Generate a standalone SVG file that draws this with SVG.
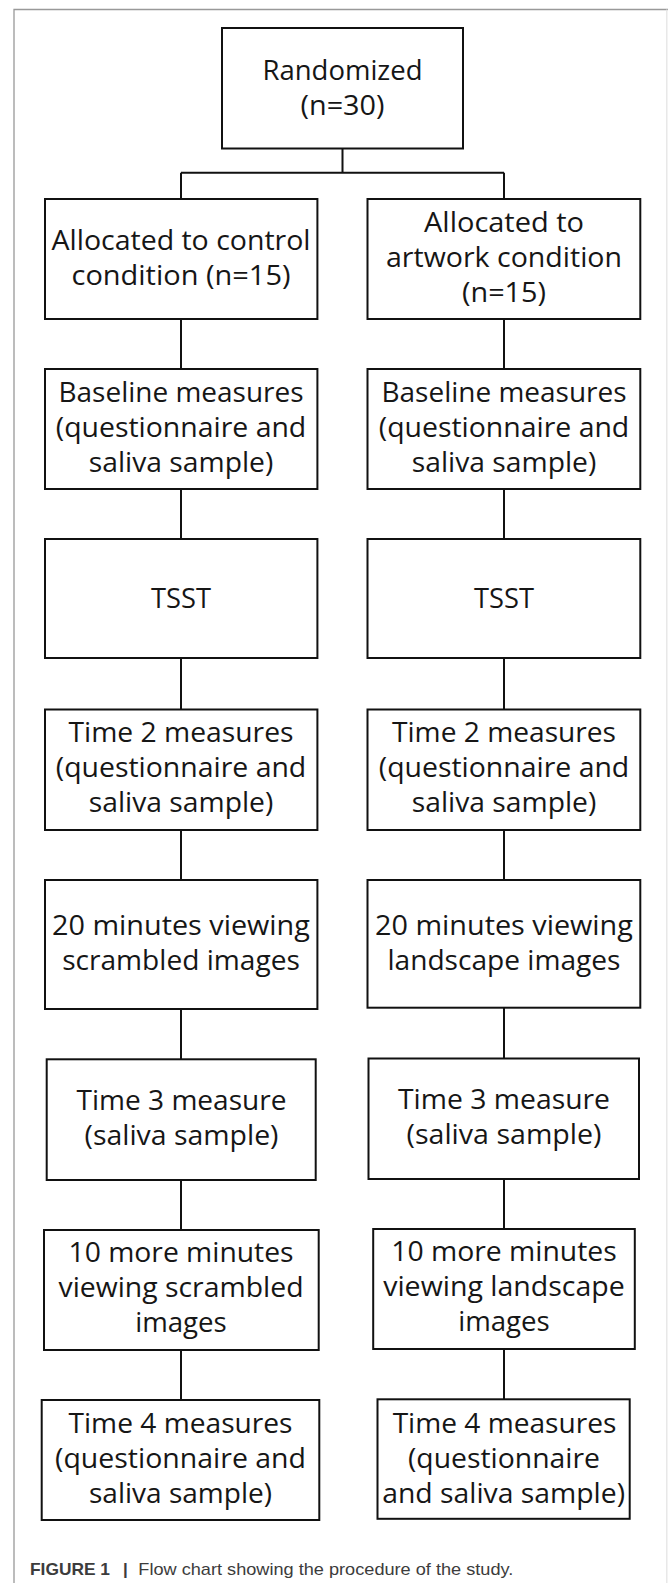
<svg xmlns="http://www.w3.org/2000/svg" width="668" height="1583" viewBox="0 0 668 1583">
<style>
.box{fill:#fff;stroke:#111;stroke-width:2}
.t{font-family:"Open Sans","Noto Sans",sans-serif;font-size:26.5px;fill:#161616;text-anchor:middle}
.c{fill:none;stroke:#111;stroke-width:2}
.cap{font-family:"Liberation Sans",Arial,sans-serif;font-size:17px;fill:#3c3c3c}
</style>
<rect width="668" height="1583" fill="#fff"/>
<g id="frame" fill="none" stroke="#999" stroke-width="1.3">
<path d="M14,1583 V9.5 H668"/>
<path d="M666.8,9.5 V1583" stroke="#e4e4e4"/>
</g>
<g id="connectors" class="c">
<path d="M342.5,148.5 V172.7 M181,172.7 H504 M181,172.7 V199 M504,172.7 V199"/>
<path d="M181,319 V369 M181,489 V539 M181,658 V709.5 M181,830 V880 M181,1009 V1059.3 M181,1180 V1230 M181,1350 V1400"/>
<path d="M504,319 V369 M504,489 V539 M504,658 V709.5 M504,830 V880 M504,1007.7 V1058.5 M504,1179 V1229 M504,1349 V1399.3"/>
</g>
<g id="randomized">
<rect class="box" x="222" y="28" width="241" height="120.5"/>
<text class="t" x="342.5" y="80" textLength="160" lengthAdjust="spacingAndGlyphs">Randomized</text>
<text class="t" x="342.5" y="115" textLength="84" lengthAdjust="spacingAndGlyphs">(n=30)</text>
</g>
<g id="alloc-control">
<rect class="box" x="45" y="199" width="272.4" height="120"/>
<text class="t" x="181" y="249.5" textLength="259" lengthAdjust="spacingAndGlyphs">Allocated to control</text>
<text class="t" x="181" y="284.5" textLength="219" lengthAdjust="spacingAndGlyphs">condition (n=15)</text>
</g>
<g id="alloc-artwork">
<rect class="box" x="367.5" y="199" width="272.8" height="120"/>
<text class="t" x="504" y="231.7" textLength="160" lengthAdjust="spacingAndGlyphs">Allocated to</text>
<text class="t" x="504" y="266.7" textLength="236" lengthAdjust="spacingAndGlyphs">artwork condition</text>
<text class="t" x="504" y="301.7" textLength="84" lengthAdjust="spacingAndGlyphs">(n=15)</text>
</g>
<g id="baseline-control">
<rect class="box" x="45" y="369" width="272.4" height="120"/>
<text class="t" x="181" y="401.7" textLength="245" lengthAdjust="spacingAndGlyphs">Baseline measures</text>
<text class="t" x="181" y="436.7" textLength="250.5" lengthAdjust="spacingAndGlyphs">(questionnaire and</text>
<text class="t" x="181" y="471.7" textLength="184.5" lengthAdjust="spacingAndGlyphs">saliva sample)</text>
</g>
<g id="baseline-artwork">
<rect class="box" x="367.5" y="369" width="272.8" height="120"/>
<text class="t" x="504" y="401.7" textLength="245" lengthAdjust="spacingAndGlyphs">Baseline measures</text>
<text class="t" x="504" y="436.7" textLength="250.5" lengthAdjust="spacingAndGlyphs">(questionnaire and</text>
<text class="t" x="504" y="471.7" textLength="184.5" lengthAdjust="spacingAndGlyphs">saliva sample)</text>
</g>
<g id="tsst-control">
<rect class="box" x="45" y="539" width="272.4" height="119"/>
<text class="t" x="181" y="607.5" textLength="60" lengthAdjust="spacingAndGlyphs">TSST</text>
</g>
<g id="tsst-artwork">
<rect class="box" x="367.5" y="539" width="272.8" height="119"/>
<text class="t" x="504" y="607.5" textLength="60" lengthAdjust="spacingAndGlyphs">TSST</text>
</g>
<g id="time2-control">
<rect class="box" x="45" y="709.5" width="272.4" height="120.5"/>
<text class="t" x="181" y="741.7" textLength="225" lengthAdjust="spacingAndGlyphs">Time 2 measures</text>
<text class="t" x="181" y="776.7" textLength="250.5" lengthAdjust="spacingAndGlyphs">(questionnaire and</text>
<text class="t" x="181" y="811.7" textLength="184.5" lengthAdjust="spacingAndGlyphs">saliva sample)</text>
</g>
<g id="time2-artwork">
<rect class="box" x="367.5" y="709.5" width="272.8" height="120.5"/>
<text class="t" x="504" y="741.7" textLength="224" lengthAdjust="spacingAndGlyphs">Time 2 measures</text>
<text class="t" x="504" y="776.7" textLength="250.5" lengthAdjust="spacingAndGlyphs">(questionnaire and</text>
<text class="t" x="504" y="811.7" textLength="184.5" lengthAdjust="spacingAndGlyphs">saliva sample)</text>
</g>
<g id="view20-control">
<rect class="box" x="45" y="880" width="272.4" height="129"/>
<text class="t" x="181" y="935" textLength="257.8" lengthAdjust="spacingAndGlyphs">20 minutes viewing</text>
<text class="t" x="181" y="970" textLength="237.7" lengthAdjust="spacingAndGlyphs">scrambled images</text>
</g>
<g id="view20-artwork">
<rect class="box" x="367.5" y="880" width="272.8" height="127.7"/>
<text class="t" x="504" y="935" textLength="257.8" lengthAdjust="spacingAndGlyphs">20 minutes viewing</text>
<text class="t" x="504" y="970" textLength="233" lengthAdjust="spacingAndGlyphs">landscape images</text>
</g>
<g id="time3-control">
<rect class="box" x="46.7" y="1059.3" width="269" height="120.7"/>
<text class="t" x="181.5" y="1110" textLength="210" lengthAdjust="spacingAndGlyphs">Time 3 measure</text>
<text class="t" x="181.5" y="1145" textLength="194" lengthAdjust="spacingAndGlyphs">(saliva sample)</text>
</g>
<g id="time3-artwork">
<rect class="box" x="368.5" y="1058.5" width="270.5" height="120.5"/>
<text class="t" x="504" y="1109" textLength="212" lengthAdjust="spacingAndGlyphs">Time 3 measure</text>
<text class="t" x="504" y="1144" textLength="195" lengthAdjust="spacingAndGlyphs">(saliva sample)</text>
</g>
<g id="view10-control">
<rect class="box" x="44" y="1230" width="274.7" height="120"/>
<text class="t" x="181" y="1261.7" textLength="225" lengthAdjust="spacingAndGlyphs">10 more minutes</text>
<text class="t" x="181" y="1296.7" textLength="245" lengthAdjust="spacingAndGlyphs">viewing scrambled</text>
<text class="t" x="181" y="1331.7" textLength="91.6" lengthAdjust="spacingAndGlyphs">images</text>
</g>
<g id="view10-artwork">
<rect class="box" x="373.2" y="1229" width="261.6" height="120"/>
<text class="t" x="504" y="1260.5" textLength="225.5" lengthAdjust="spacingAndGlyphs">10 more minutes</text>
<text class="t" x="504" y="1295.5" textLength="241.6" lengthAdjust="spacingAndGlyphs">viewing landscape</text>
<text class="t" x="504" y="1330.5" textLength="91.6" lengthAdjust="spacingAndGlyphs">images</text>
</g>
<g id="time4-control">
<rect class="box" x="41.7" y="1400" width="277.6" height="120"/>
<text class="t" x="180.5" y="1433.3" textLength="224" lengthAdjust="spacingAndGlyphs">Time 4 measures</text>
<text class="t" x="180.5" y="1468.3" textLength="251" lengthAdjust="spacingAndGlyphs">(questionnaire and</text>
<text class="t" x="180.5" y="1503.3" textLength="183" lengthAdjust="spacingAndGlyphs">saliva sample)</text>
</g>
<g id="time4-artwork">
<rect class="box" x="377.5" y="1399.3" width="252.2" height="119.5"/>
<text class="t" x="504.5" y="1433" textLength="223.7" lengthAdjust="spacingAndGlyphs">Time 4 measures</text>
<text class="t" x="504" y="1468" textLength="192" lengthAdjust="spacingAndGlyphs">(questionnaire</text>
<text class="t" x="503.6" y="1503" textLength="242.8" lengthAdjust="spacingAndGlyphs">and saliva sample)</text>
</g>
<g id="caption">
<text class="cap" x="30" y="1575" font-weight="bold" textLength="80" lengthAdjust="spacingAndGlyphs">FIGURE 1</text>
<text class="cap" x="123" y="1575" font-weight="bold">|</text>
<text class="cap" x="138.3" y="1575" textLength="375" lengthAdjust="spacingAndGlyphs">Flow chart showing the procedure of the study.</text>
</g>
</svg>
